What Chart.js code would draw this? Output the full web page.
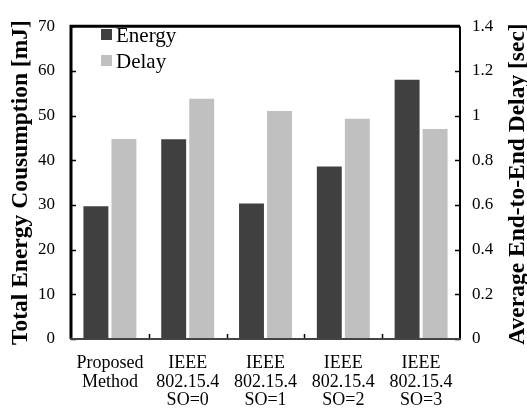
<!DOCTYPE html>
<html>
<head>
<meta charset="utf-8">
<script src="https://cdn.jsdelivr.net/npm/chart.js@4.4.1/dist/chart.umd.min.js"></script>
<style>
  html, body { margin: 0; padding: 0; background: #fff; }
  #wrap { width: 527px; height: 416px; }
</style>
</head>
<body>
<div id="wrap"><canvas id="chart"></canvas></div>
<script>
const categories = [
  ['Proposed', 'Method'],
  ['IEEE', '802.15.4', 'SO=0'],
  ['IEEE', '802.15.4', 'SO=1'],
  ['IEEE', '802.15.4', 'SO=2'],
  ['IEEE', '802.15.4', 'SO=3'],
];
const energy = [29.7, 44.7, 30.3, 38.6, 58.0];   // mJ, left axis
const delay = [0.895, 1.075, 1.02, 0.986, 0.94];  // sec, right axis
const energyTicks = [0, 10, 20, 30, 40, 50, 60, 70];
const delayTicks = [0, 0.2, 0.4, 0.6, 0.8, 1, 1.2, 1.4];

const SERIF = '"Liberation Serif", "Times New Roman", serif';
const AREA = { left: 71, right: 460, top: 11, bottom: 339 };

// frame, inward tick marks, legend and right title
const decorations = {
  id: 'decorations',
  afterDatasetsDraw(chart) {
    const { ctx, chartArea: a, scales } = chart;
    ctx.save();
    ctx.strokeStyle = '#000';

    // inward tick marks
    ctx.lineWidth = 1.5;
    ctx.beginPath();
    scales.y.ticks.forEach(t => {
      const py = Math.round(scales.y.getPixelForValue(t.value)) + 0.5;
      ctx.moveTo(a.left, py); ctx.lineTo(a.left + 5, py);
    });
    scales.y1.ticks.forEach(t => {
      const py = Math.round(scales.y1.getPixelForValue(t.value)) + 0.5;
      ctx.moveTo(a.right, py); ctx.lineTo(a.right - 5, py);
    });
    for (let i = 1; i < categories.length; i++) {
      const px = Math.round((scales.x.getPixelForValue(i - 1) + scales.x.getPixelForValue(i)) / 2) + 0.5;
      ctx.moveTo(px, a.bottom); ctx.lineTo(px, a.bottom - 5);
    }
    ctx.stroke();

    // frame
    ctx.lineWidth = 3;
    ctx.beginPath();
    ctx.moveTo(a.left, a.bottom); ctx.lineTo(a.left, a.top); ctx.lineTo(a.right, a.top);
    ctx.stroke();
    ctx.lineWidth = 2;
    ctx.beginPath();
    ctx.moveTo(a.right, a.top); ctx.lineTo(a.right, a.bottom);
    ctx.stroke();
    ctx.strokeStyle = '#444';
    ctx.beginPath();
    ctx.moveTo(a.left - 1, a.bottom); ctx.lineTo(a.right + 1, a.bottom);
    ctx.stroke();

    // legend inside plot
    ctx.font = '21px ' + SERIF;
    ctx.textBaseline = 'middle';
    ctx.textAlign = 'left';
    chart.data.datasets.forEach((ds, i) => {
      const y = 35 + i * 26;
      ctx.fillStyle = ds.backgroundColor;
      ctx.fillRect(101, y - 6, 11, 11);
      ctx.fillStyle = '#000';
      ctx.fillText(ds.label, 116, y + 1);
    });

    // right axis title, reading bottom to top
    ctx.translate(518, 184);
    ctx.rotate(-Math.PI / 2);
    ctx.font = 'bold 23.5px ' + SERIF;
    ctx.textAlign = 'center';
    ctx.fillText('Average End-to-End Delay [sec]', 0, 0);
    ctx.restore();
  }
};

new Chart(document.getElementById('chart'), {
  type: 'bar',
  plugins: [decorations],
  data: {
    labels: categories,
    datasets: [
      {
        label: 'Energy',
        data: energy,
        yAxisID: 'y',
        backgroundColor: '#404040',
        categoryPercentage: 0.72,
        barPercentage: 0.89,
      },
      {
        label: 'Delay',
        data: delay,
        yAxisID: 'y1',
        backgroundColor: '#c0c0c0',
        categoryPercentage: 0.72,
        barPercentage: 0.89,
      },
    ],
  },
  options: {
    responsive: true,
    maintainAspectRatio: false,
    animation: false,
    layout: { padding: { top: AREA.top, left: 0, right: 0, bottom: 0 } },
    plugins: {
      legend: { display: false },
      tooltip: { enabled: false },
    },
    scales: {
      x: {
        grid: { display: false, drawTicks: false },
        border: { display: false },
        ticks: {
          color: '#000',
          padding: 15,
          maxRotation: 0,
          autoSkip: false,
          font: { family: SERIF, size: 18, lineHeight: 1.03 },
        },
        afterFit(scale) { scale.height = 416 - AREA.bottom; },
      },
      y: {
        position: 'left',
        min: 0,
        max: 70,
        afterBuildTicks(scale) { scale.ticks = energyTicks.map(v => ({ value: v })); },
        grid: { display: false, drawTicks: false },
        border: { display: false },
        ticks: {
          color: '#000',
          padding: 16,
          font: { family: SERIF, size: 17 },
        },
        title: {
          display: true,
          text: 'Total Energy Cousumption [mJ]',
          color: '#000',
          padding: { top: 7, bottom: 0 },
          font: { family: SERIF, size: 23.5, weight: 'bold', lineHeight: 1.2 },
        },
        afterFit(scale) { scale.width = AREA.left; },
      },
      y1: {
        position: 'right',
        min: 0,
        max: 1.4,
        afterBuildTicks(scale) { scale.ticks = delayTicks.map(v => ({ value: v })); },
        grid: { display: false, drawTicks: false },
        border: { display: false },
        ticks: {
          color: '#000',
          padding: 12,
          font: { family: SERIF, size: 17 },
          callback: v => String(v),
        },
        afterFit(scale) { scale.width = 527 - AREA.right; },
      },
    },
  },
});
</script>
</body>
</html>
